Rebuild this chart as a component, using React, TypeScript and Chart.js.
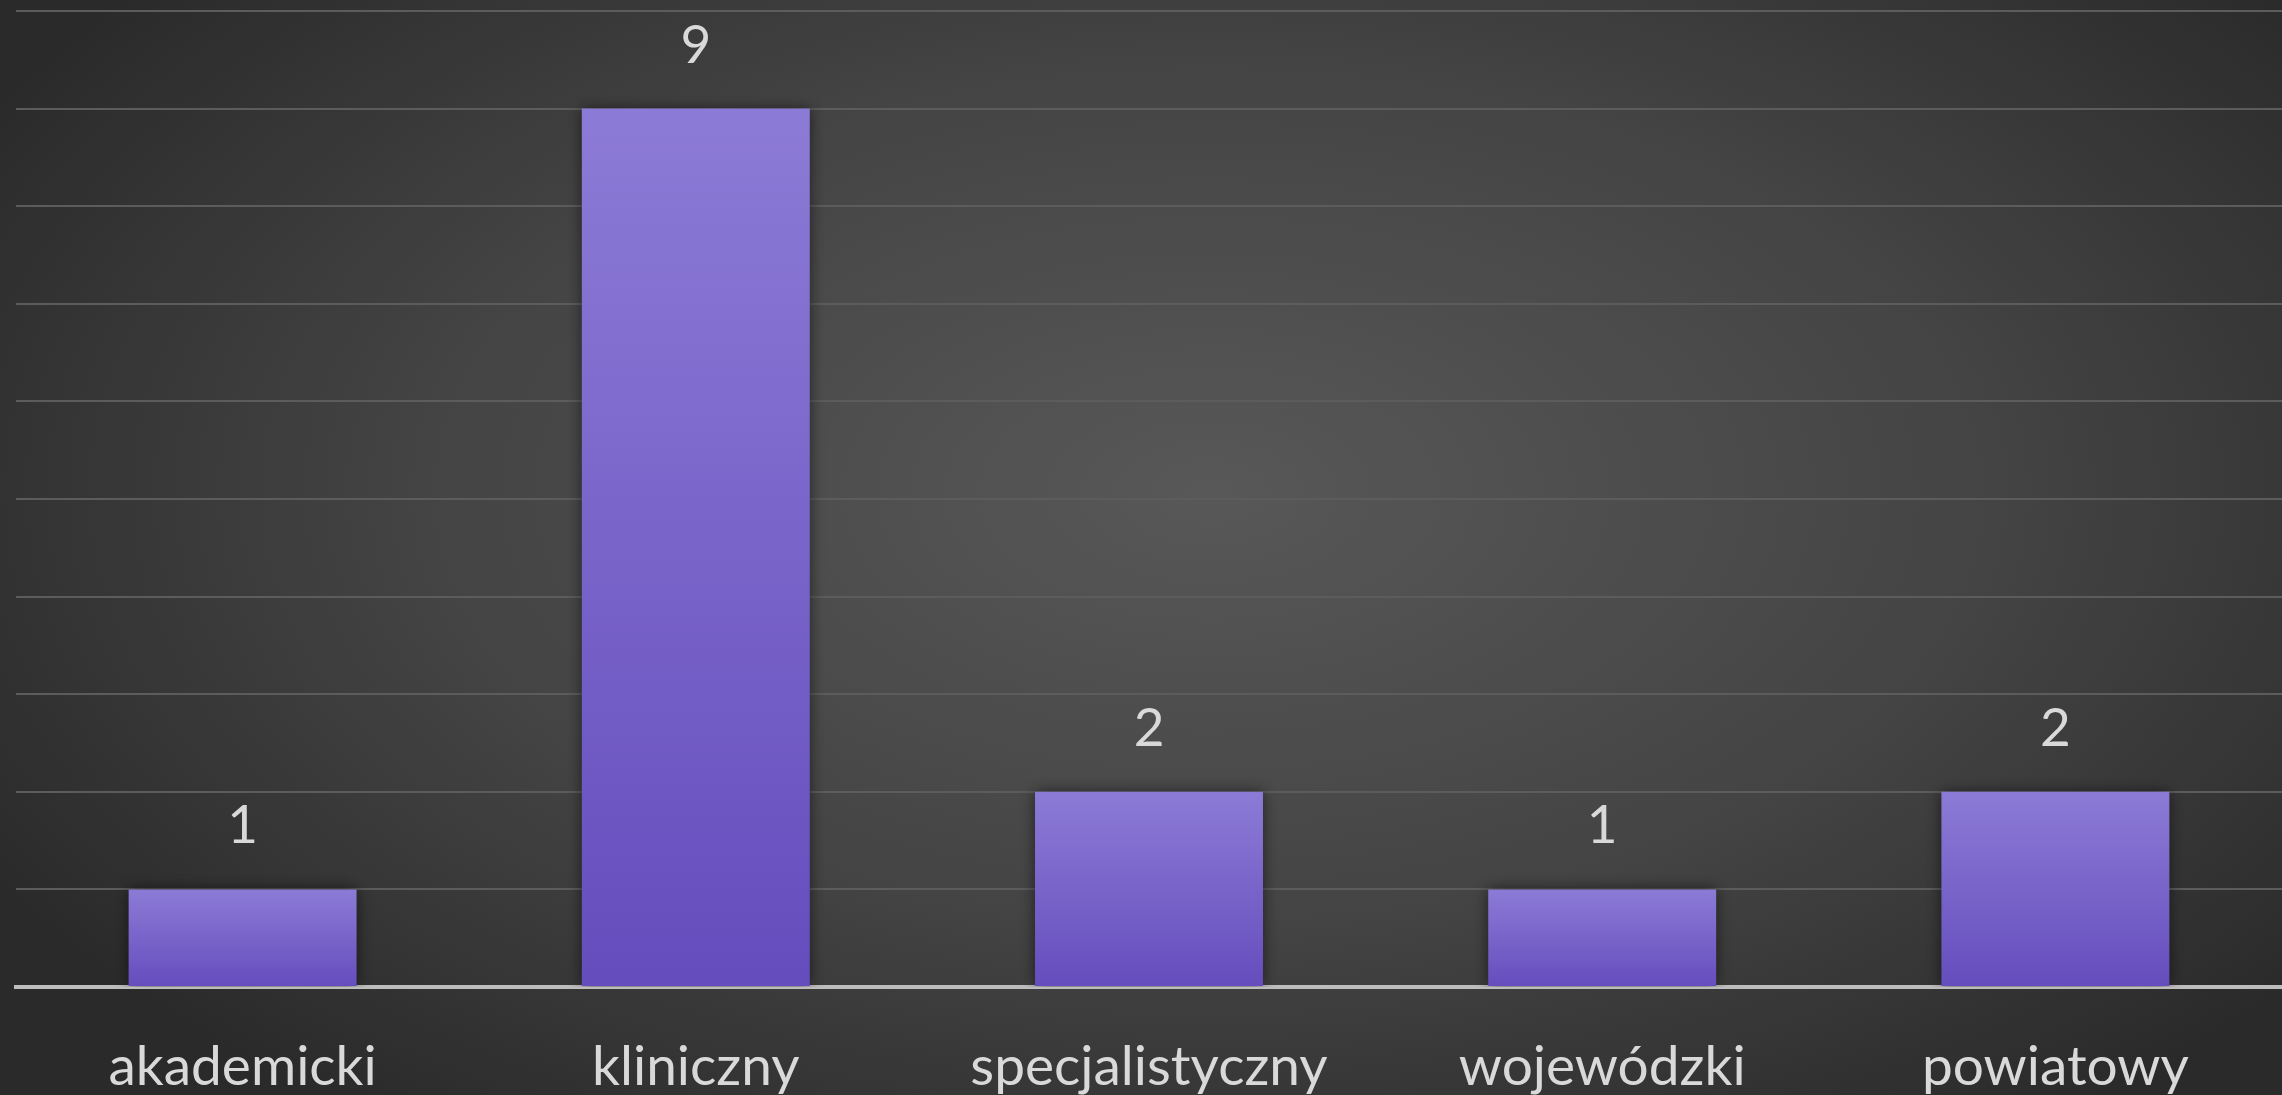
import React, { useEffect, useRef } from "react";
import { Chart, registerables } from "chart.js";

Chart.register(...registerables);

const categories = ["akademicki", "kliniczny", "specjalistyczny", "wojewódzki", "powiatowy"];
const values = [1, 9, 2, 1, 2];
const yMax = 10;

const bgPlugin = {
  id: "bgPlugin",
  beforeDraw(chart: any) {
    const { ctx, width, height } = chart;
    ctx.save();
    ctx.fillStyle = "#2c2c2c";
    ctx.fillRect(0, 0, width, height);
    ctx.translate(width * 0.53, height * 0.45);
    ctx.scale(1, 0.55);
    const r = width * 0.62;
    const g = ctx.createRadialGradient(0, 0, 0, 0, 0, r);
    g.addColorStop(0, "#585858");
    g.addColorStop(0.55, "#444444");
    g.addColorStop(1, "#2a2a2a");
    ctx.fillStyle = g;
    ctx.fillRect(-width * 2, -height * 4, width * 4, height * 8);
    ctx.restore();
  },
};

const labelPlugin = {
  id: "labelPlugin",
  afterDatasetsDraw(chart: any) {
    const { ctx } = chart;
    const meta = chart.getDatasetMeta(0);
    ctx.save();
    ctx.font = "53px Lato";
    ctx.fillStyle = "#d9d9d9";
    ctx.textAlign = "center";
    ctx.textBaseline = "alphabetic";
    meta.data.forEach((bar: any, i: number) => {
      ctx.fillText(String(values[i]), bar.x, bar.y - 46);
    });
    ctx.restore();
  },
};

const shadowPlugin = {
  id: "shadowPlugin",
  beforeDatasetDraw(chart: any) {
    const ctx = chart.ctx;
    ctx.save();
    ctx.shadowColor = "rgba(0,0,0,0.55)";
    ctx.shadowBlur = 14;
    ctx.shadowOffsetX = 0;
    ctx.shadowOffsetY = 0;
  },
  afterDatasetDraw(chart: any) {
    chart.ctx.restore();
  },
};

export default function App() {
  const ref = useRef<HTMLCanvasElement>(null);
  useEffect(() => {
    document.body.style.margin = "0";
    document.body.style.background = "#2c2c2c";
    const chart = new Chart(ref.current!, {
      type: "bar",
      data: {
        labels: categories,
        datasets: [
          {
            data: values,
            backgroundColor: (c: any) => {
              const ch = c.chart;
              const y = ch.scales?.y;
              if (!y || !c.parsed) return "#7a64cc";
              const top = y.getPixelForValue(c.parsed.y);
              const base = y.getPixelForValue(0);
              if (!isFinite(top) || !isFinite(base) || top === base) return "#7a64cc";
              const g = ch.ctx.createLinearGradient(0, top, 0, base);
              g.addColorStop(0, "#8c7bd6");
              g.addColorStop(1, "#654dbd");
              return g;
            },
            borderWidth: 0,
            categoryPercentage: 1,
            barPercentage: 0.503,
          },
        ],
      },
      options: {
        animation: false,
        responsive: false,
        devicePixelRatio: 1,
        layout: { padding: { left: 16, right: -5, top: 11, bottom: 0 } },
        plugins: { legend: { display: false }, tooltip: { enabled: false } },
        scales: {
          x: {
            grid: { display: false, drawTicks: false },
            border: { display: true, color: "#bdbdbd", width: 4 },
            ticks: {
              color: "#d9d9d9",
              font: { family: "Lato", size: 55 },
              padding: 47,
              maxRotation: 0,
              autoSkip: false,
            },
            afterFit: (s: any) => {
              s.height = 108;
            },
          },
          y: {
            min: 0,
            max: yMax,
            ticks: { display: false, stepSize: 1 },
            grid: { color: "#5c5c5c", lineWidth: 2, drawTicks: false },
            border: { display: false },
            afterFit: (s: any) => {
              s.width = 0;
            },
          },
        },
      },
      plugins: [bgPlugin, shadowPlugin, labelPlugin],
    });
    return () => chart.destroy();
  }, []);
  return <canvas ref={ref} width={2282} height={1095} style={{ display: "block" }} />;
}
